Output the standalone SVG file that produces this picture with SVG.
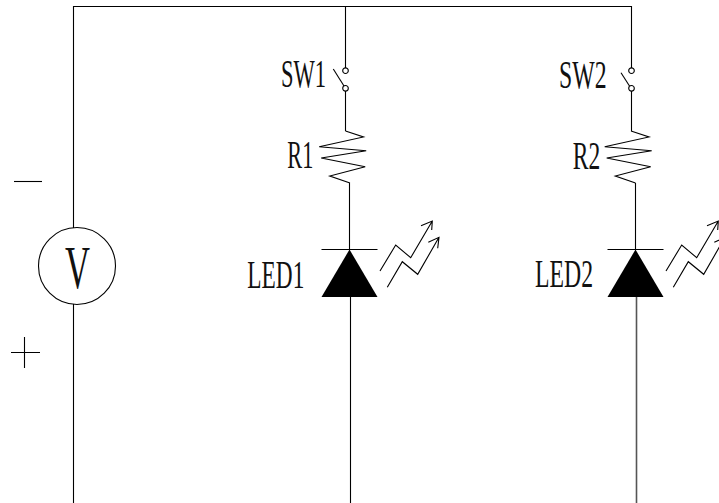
<svg xmlns="http://www.w3.org/2000/svg" width="719" height="503" viewBox="0 0 719 503">
<defs>
<style>
.w{fill:none;stroke:#000;stroke-width:1.1}
.t{font-family:"Liberation Serif","Times New Roman",serif;fill:#111;font-size:41px}
</style>
<g id="contacts"><circle class="w" cx="0" cy="0" r="2.8"/><circle class="w" cx="0" cy="17.6" r="2.8"/></g>
<g id="resistor"><path class="w" d="M0 0L18 6L-26.3 15.7L20.7 19.7L-24.3 27L19.7 35.7L-15.7 45L4.5 52"/></g>
<g id="led"><path class="w" d="M-28 0H28"/><path d="M0 0L28 47.5H-28Z" fill="#000"/><path class="w" d="M30.500 21.500L46.200 -4.500L61.200 8.200L82.800 -28.500M71.500 -23.800L82.800 -28.500L82.200 -19.500M37.800 37.800L52.800 12.200L68.200 24.800L89.500 -12.200M78.800 -7.200L89.500 -12.200L88.200 -1.200"/></g>
</defs>
<g id="connectors">
<path class="w" d="M73.500 504V304M73.500 228V6.500H631.500V68M345.500 6.500V68M345.500 91V131M349.500 183V250M350.500 297V504M631.500 91V131M635.500 183V250"/>
<path d="M636.500 297V504" style="fill:none;stroke:#555;stroke-width:1.600"/>
</g>
<g id="V"><circle class="w" cx="77" cy="266" r="38.500"/><text class="t" x="65" y="288" style="font-size:62px" textLength="25" lengthAdjust="spacingAndGlyphs">V</text></g>
<g id="minus"><path class="w" d="M14 181.500H42"/></g>
<g id="plus"><path class="w" d="M11 352.500H40M24.500 337V368"/></g>
<g id="SW1"><use href="#contacts" x="345.500" y="70.700"/><path class="w" d="M333.300 69L344 86"/><text class="t" x="281" y="86.700" textLength="45" lengthAdjust="spacingAndGlyphs">SW1</text></g>
<g id="SW2"><use href="#contacts" x="631.500" y="70.700"/><path class="w" d="M621 72.700L629.500 86"/><text class="t" x="559" y="88" textLength="47.500" lengthAdjust="spacingAndGlyphs">SW2</text></g>
<g id="R1"><use href="#resistor" x="345.500" y="131"/><text class="t" x="287.300" y="167.700" textLength="26" lengthAdjust="spacingAndGlyphs">R1</text></g>
<g id="R2"><use href="#resistor" x="631" y="131"/><text class="t" x="572.700" y="168.500" textLength="27.500" lengthAdjust="spacingAndGlyphs">R2</text></g>
<g id="LED1"><use href="#led" x="349.500" y="249.500"/><text class="t" x="247.300" y="288.300" textLength="57" lengthAdjust="spacingAndGlyphs">LED1</text></g>
<g id="LED2"><use href="#led" x="635.500" y="249.500"/><text class="t" x="535" y="287" textLength="58" lengthAdjust="spacingAndGlyphs">LED2</text></g>
</svg>
